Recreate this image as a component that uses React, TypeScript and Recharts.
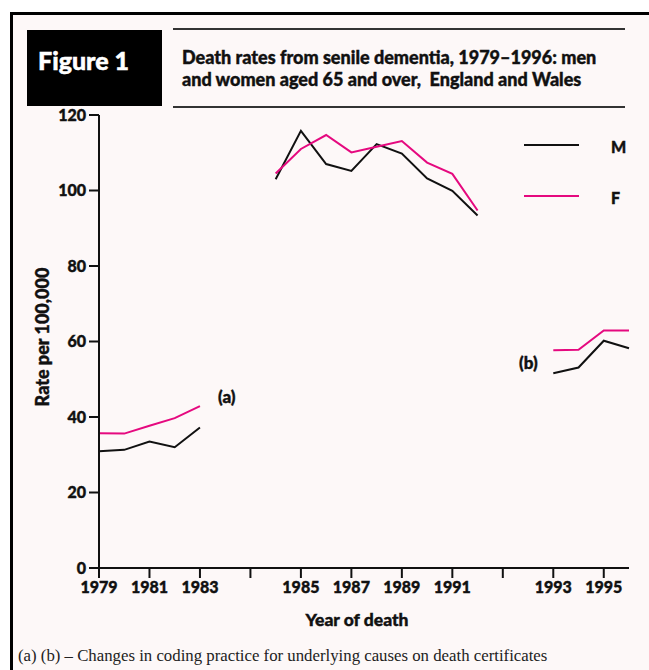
import { LineChart, Line, XAxis, YAxis } from 'recharts';

// years and rates per 100,000 (men / women aged 65+)
const years = [1979, 1980, 1981, 1982, 1983, 1984, 1985, 1986, 1987, 1988, 1989, 1990, 1991, 1992, 1993, 1994, 1995, 1996];
const menRates = [30.9, 31.3, 33.5, 32.0, 37.2, 103.0, 115.8, 107.0, 105.2, 112.3, 109.8, 103.2, 99.9, 93.4, 51.6, 53.1, 60.2, 58.2];
const womenRates = [35.7, 35.6, 37.7, 39.7, 42.9, 104.5, 111.0, 114.7, 110.1, 111.6, 113.1, 107.4, 104.4, 94.7, 57.7, 57.8, 62.9, 62.9];

// coding changes break the series (each break adds two empty years on the axis)
const breakYears = [1984, 1993];

const xTicks = [0, 2, 4, 6, 8, 10, 12, 14, 16, 18, 20];
const xTickLabels = ['1979', '1981', '1983', '', '1985', '1987', '1989', '1991', '', '1993', '1995'];
const yTicks = [0, 20, 40, 60, 80, 100, 120];

const posOf = (year: number) => year - years[0] + 2 * breakYears.filter((b) => year >= b).length;

const data: { pos: number; M: number | null; F: number | null }[] = [];
years.forEach((y, i) => {
  if (breakYears.includes(y)) data.push({ pos: posOf(y) - 1, M: null, F: null });
  data.push({ pos: posOf(y), M: menRates[i], F: womenRates[i] });
});

const FONT = 'Lato, "Open Sans", sans-serif';
const W = 900;
const PINK = '#e5097f';
const INK = '#111';

const App = () => {
  const tickStyle = { fontFamily: FONT, fontSize: 16, fontWeight: W, fill: INK, stroke: INK, strokeWidth: 0.4 };
  const svgText = { fontFamily: FONT, fontWeight: W, fill: INK, stroke: INK, strokeWidth: 0.4 };
  return (
    <div style={{ position: 'absolute', left: 0, top: 0, width: 649, height: 670, background: '#fff', overflow: 'hidden' }}>
      <div style={{ position: 'absolute', left: 10, top: 12, width: 660, height: 680, border: '3px solid #000', background: '#fdf8f8', boxSizing: 'border-box' }} />
      <div style={{ position: 'absolute', left: 27, top: 30, width: 135, height: 76, background: '#000', color: '#fff', fontFamily: FONT, fontWeight: W, fontSize: 25, boxSizing: 'border-box', padding: '16px 0 0 11px', WebkitTextStroke: '0.5px #fff', lineHeight: '28px' }}>
        Figure 1
      </div>
      <div style={{ position: 'absolute', left: 173, top: 28, width: 452, height: 80, borderTop: '2px solid #333', borderBottom: '2px solid #333', boxSizing: 'border-box', fontFamily: FONT, fontWeight: W, fontSize: 18, color: INK, padding: '16px 0 0 9px', lineHeight: '22px', WebkitTextStroke: '0.4px #111', whiteSpace: 'nowrap' }}>
        Death rates from senile dementia, 1979–1996: men<br />and women aged 65 and over,{'\u00a0 '}England and Wales
      </div>

      <div style={{ position: 'absolute', left: 0, top: 0 }}>
        <LineChart width={649} height={670} data={data} margin={{ top: 115, right: 20, bottom: 72, left: 39 }}>
          <XAxis
            dataKey="pos"
            type="number"
            domain={[0, 21]}
            ticks={xTicks}
            tickFormatter={(v: number) => xTickLabels[xTicks.indexOf(v)] ?? ''}
            interval={0}
            height={30}
            tickSize={10}
            tickMargin={4}
            axisLine={{ stroke: INK, strokeWidth: 2 }}
            tickLine={{ stroke: INK, strokeWidth: 2 }}
            tick={tickStyle}
          />
          <YAxis
            domain={[0, 120]}
            ticks={yTicks}
            width={60}
            tickSize={10}
            tickMargin={3}
            axisLine={{ stroke: INK, strokeWidth: 2 }}
            tickLine={{ stroke: INK, strokeWidth: 2 }}
            tick={tickStyle}
          />
          <Line dataKey="M" stroke={INK} strokeWidth={2} dot={false} isAnimationActive={false} connectNulls={false} />
          <Line dataKey="F" stroke={PINK} strokeWidth={2} dot={false} isAnimationActive={false} connectNulls={false} />
        </LineChart>
      </div>

      <svg width={649} height={670} style={{ position: 'absolute', left: 0, top: 0, pointerEvents: 'none' }}>
        <line x1={524} x2={579} y1={145} y2={145} stroke={INK} strokeWidth={2} />
        <line x1={524} x2={579} y1={196} y2={196} stroke={PINK} strokeWidth={2} />
        <text x={611} y={153} fontSize={16} {...svgText}>M</text>
        <text x={611} y={204} fontSize={16} {...svgText}>F</text>
        <text x={218} y={403} fontSize={17} {...svgText}>(a)</text>
        <text x={519} y={369} fontSize={17} {...svgText}>(b)</text>
        <text x={357} y={626} textAnchor="middle" fontSize={17.5} {...svgText}>Year of death</text>
        <text transform="translate(49,337) rotate(-90)" textAnchor="middle" fontSize={18} {...svgText}>Rate per 100,000</text>
        <text x={18} y={661} fontFamily='"Liberation Serif", "Times New Roman", serif' fontSize={16.8} fill="#222">(a) (b) – Changes in coding practice for underlying causes on death certificates</text>
      </svg>
    </div>
  );
};

export default App;
